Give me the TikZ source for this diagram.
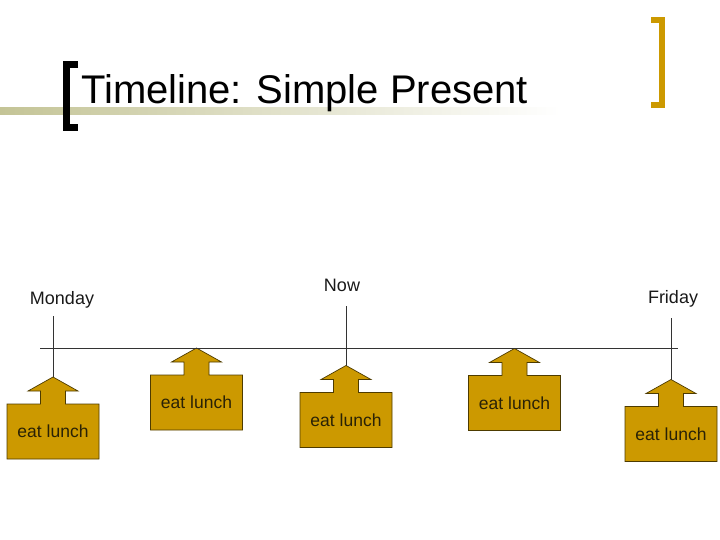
\documentclass[tikz,border=0pt]{standalone}
\usepackage{fontspec}
\setmainfont{Liberation Sans}
\usetikzlibrary{backgrounds}

\definecolor{lunchgold}{HTML}{CC9900}
\definecolor{lunchedge}{HTML}{4D3B00}
\definecolor{lunchtext}{HTML}{2A2206}
\definecolor{barolive}{HTML}{C4C496}
\definecolor{lineline}{HTML}{333333}

\begin{document}
\begin{tikzpicture}[
    x=1pt, y=-1pt,
    lunch/.style={rectangle, minimum width=92pt, minimum height=55pt, inner sep=0pt, outer sep=0pt,
                  text=lunchtext, font=\fontsize{17.5}{21}\selectfont},
    lunchshape/.style={fill=lunchgold, draw=lunchedge, line width=0.7pt, line join=miter},
    daylabel/.style={anchor=base, inner sep=0pt, text=black!90, font=\fontsize{18}{22}\selectfont},
    tick/.style={draw=lineline, line width=0.7pt}
]
\useasboundingbox (0,0) rectangle (720,540);

% Title
\shade[left color=barolive, middle color=barolive!85, right color=white] (0,108) rectangle (560,115);
\node[anchor=base west, inner sep=0pt, font=\fontsize{40}{48}\selectfont] (title) at (81,104) {Timeline: Simple Present};
\draw[line width=7pt, line cap=butt, line join=miter] (78,64.5) -- (66.5,64.5) -- (66.5,127.5) -- (78,127.5);
\draw[lunchgold, line width=6pt, line cap=butt, line join=miter] (651,20.5) -- (662,20.5) -- (662,105.5) -- (651,105.5);

% Day labels
\node[daylabel] (monday) at (62,304) {Monday};
\node[daylabel] (now) at (342,291) {Now};
\node[daylabel] (friday) at (673,303) {Friday};

% Timeline
\coordinate (line-start) at (40,348);
\coordinate (line-end) at (678,348);
\draw[tick] (line-start) -- (line-end);

% Lunches
\node[lunch] (lunch-mon) at (53,431.5) {eat lunch};
\node[lunch] (lunch-tue) at (196.5,402.5) {eat lunch};
\node[lunch] (lunch-now) at (346,420) {eat lunch};
\node[lunch] (lunch-thu) at (514.5,403) {eat lunch};
\node[lunch] (lunch-fri) at (671,434) {eat lunch};

\begin{scope}[on background layer]
\draw[lunchshape] (lunch-mon.south west) -- (lunch-mon.north west) -- ([xshift=-12.5pt]lunch-mon.north) -- ++(0,-13) -- ++(-12.5,0)
    -- ++(25,-14) coordinate (tip-mon) -- ++(25,14) -- ++(-12.5,0) -- ++(0,13) -- (lunch-mon.north east) -- (lunch-mon.south east) -- cycle;
\draw[lunchshape] (lunch-tue.south west) -- (lunch-tue.north west) -- ([xshift=-12.5pt]lunch-tue.north) -- ++(0,-13) -- ++(-12.5,0)
    -- ++(25,-14) coordinate (tip-tue) -- ++(25,14) -- ++(-12.5,0) -- ++(0,13) -- (lunch-tue.north east) -- (lunch-tue.south east) -- cycle;
\draw[lunchshape] (lunch-now.south west) -- (lunch-now.north west) -- ([xshift=-12.5pt]lunch-now.north) -- ++(0,-13) -- ++(-12.5,0)
    -- ++(25,-14) coordinate (tip-now) -- ++(25,14) -- ++(-12.5,0) -- ++(0,13) -- (lunch-now.north east) -- (lunch-now.south east) -- cycle;
\draw[lunchshape] (lunch-thu.south west) -- (lunch-thu.north west) -- ([xshift=-12.5pt]lunch-thu.north) -- ++(0,-13) -- ++(-12.5,0)
    -- ++(25,-14) coordinate (tip-thu) -- ++(25,14) -- ++(-12.5,0) -- ++(0,13) -- (lunch-thu.north east) -- (lunch-thu.south east) -- cycle;
\draw[lunchshape] (lunch-fri.south west) -- (lunch-fri.north west) -- ([xshift=-12.5pt]lunch-fri.north) -- ++(0,-13) -- ++(-12.5,0)
    -- ++(25,-14) coordinate (tip-fri) -- ++(25,14) -- ++(-12.5,0) -- ++(0,13) -- (lunch-fri.north east) -- (lunch-fri.south east) -- cycle;
\end{scope}

% Ticks down to the arrows
\coordinate (mon-top) at (53,316);
\coordinate (now-top) at (346,306);
\coordinate (fri-top) at (671,318);
\draw[tick] (mon-top) -- (tip-mon);
\draw[tick] (now-top) -- (tip-now);
\draw[tick] (fri-top) -- (tip-fri);

\end{tikzpicture}
\end{document}
